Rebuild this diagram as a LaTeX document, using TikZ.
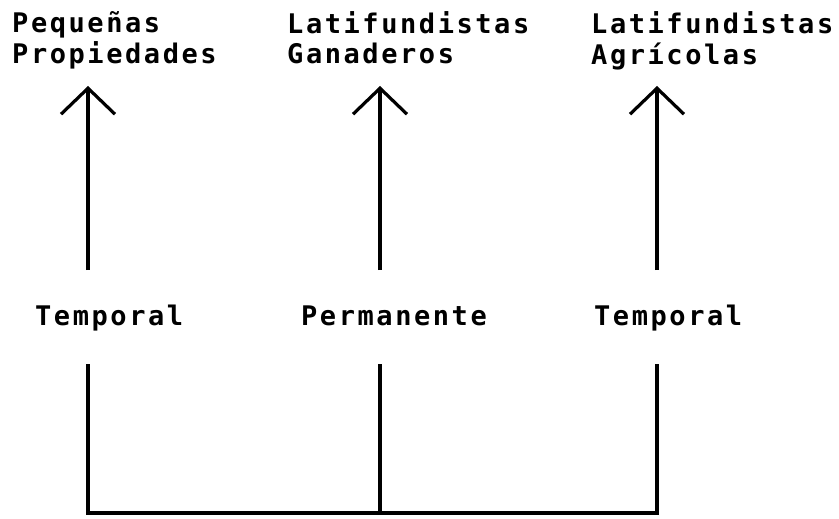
\documentclass[tikz,border=0pt]{standalone}
\usepackage{fontspec}
\newfontfamily\typewr[LetterSpace=9.5]{DejaVu Sans Mono Bold}
\usetikzlibrary{arrows.meta}
\tikzset{
  lbl/.style={inner sep=0pt, anchor=base west, font=\typewr\fontsize{27}{30}\selectfont},
  link/.style={line width=3.2pt, black},
  uparrow/.style={link, -{Straight Barb[length=26pt, width=54pt, line width=3.2pt]}}
}
\begin{document}
\begin{tikzpicture}[x=1pt, y=-1pt]
  \useasboundingbox (0,0) rectangle (839,519);
  % top labels
  \node[lbl] (t1) at (12,33) {\begin{tabular}[t]{@{}l@{}}Pequeñas\\Propiedades\end{tabular}};
  \node[lbl] (t2) at (287,34) {\begin{tabular}[t]{@{}l@{}}Latifundistas\\Ganaderos\end{tabular}};
  \node[lbl] (t3) at (591,34) {\begin{tabular}[t]{@{}l@{}}Latifundistas\\Agrícolas\end{tabular}};
  % middle labels
  \node[lbl] (m1) at (35,325) {Temporal};
  \node[lbl] (m2) at (301,325) {Permanente};
  \node[lbl] (m3) at (594,325) {Temporal};
  % coordinates
  \coordinate (a1) at (88,86);  \coordinate (u1) at (88,270);
  \coordinate (a2) at (380,86); \coordinate (u2) at (380,270);
  \coordinate (a3) at (657,86); \coordinate (u3) at (657,270);
  \coordinate (l1) at (88,364);  \coordinate (b1) at (88,513);
  \coordinate (l2) at (380,364); \coordinate (b2) at (380,513);
  \coordinate (l3) at (657,364); \coordinate (b3) at (657,513);
  % arrows
  \draw[uparrow] (u1) -- (a1);
  \draw[uparrow] (u2) -- (a2);
  \draw[uparrow] (u3) -- (a3);
  % lower connectors
  \draw[link] (l1) -- (b1) -- (b3) -- (l3);
  \draw[link] (l2) -- (b2);
\end{tikzpicture}
\end{document}
